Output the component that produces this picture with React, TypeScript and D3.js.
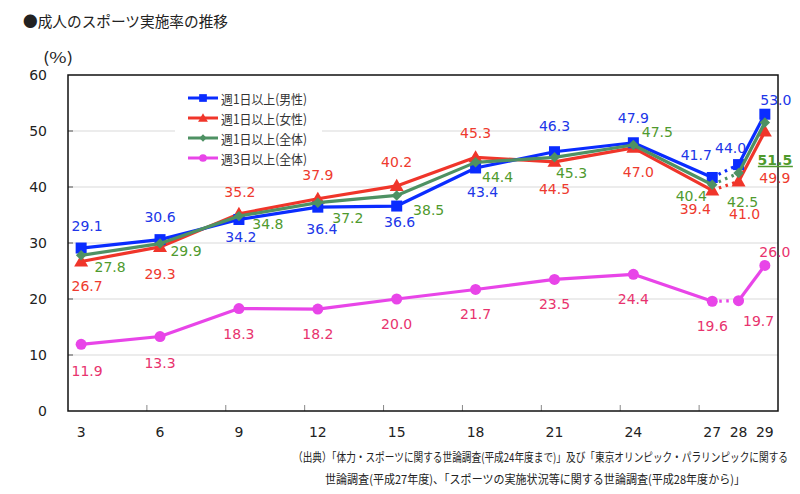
import React from "react";
import * as d3 from "d3";

const years = [3, 6, 9, 12, 15, 18, 21, 24, 27, 28, 29];
const xTickLabels = ["3", "6", "9", "12", "15", "18", "21", "24", "27", "28", "29"];
const yTicks = [0, 10, 20, 30, 40, 50, 60];
const male = [29.1, 30.6, 34.2, 36.4, 36.6, 43.4, 46.3, 47.9, 41.7, 44.0, 53.0];
const female = [26.7, 29.3, 35.2, 37.9, 40.2, 45.3, 44.5, 47.0, 39.4, 41.0, 49.9];
const total = [27.8, 29.9, 34.8, 37.2, 38.5, 44.4, 45.3, 47.5, 40.4, 42.5, 51.5];
const threeDays = [11.9, 13.3, 18.3, 18.2, 20.0, 21.7, 23.5, 24.4, 19.6, 19.7, 26.0];
const seriesNames = ["週1日以上(男性)", "週1日以上(女性)", "週1日以上(全体)", "週3日以上(全体)"];
const title = "●成人のスポーツ実施率の推移";
const sourceLines = [
  "（出典）「体力・スポーツに関する世論調査(平成24年度まで)」及び「東京オリンピック・パラリンピックに関する",
  "世論調査(平成27年度)、「スポーツの実施状況等に関する世論調査(平成28年度から)」",
];

// label placement offsets (dx, dy) relative to each point
const maleOff = [[6, -22], [0, -23], [2, 18], [4, 22], [3, 16], [7, 24], [0, -26], [0, -25], [-16, -22], [-8, -17], [11, -14]];
const femaleOff = [[6, 25], [0, 27], [1, -22], [0, -24], [0, -24], [0, -24], [0, 27], [5, 24], [-17, 19], [6, 33], [10, 46]];
const totalOff = [[29, 12], [26, 7], [29, 8], [30, 15], [32, 15], [22, 15], [17, 16], [24, -13], [-21, 11], [4, 29], [10, 37]];
const threeOff = [[6, 27], [0, 26], [0, 25], [0, 25], [0, 25], [0, 25], [0, 25], [0, 25], [0, 25], [20, 20], [10, -13]];

const W = 800;
const H = 494;
const L = 68, R = 778, T = 75, B = 411;

const x = d3.scaleLinear().domain([2.5, 29.5]).range([L, R]);
const y = d3.scaleLinear().domain([0, 60]).range([B, T]);

const NUM_FONT = "'DejaVu Sans', Verdana, sans-serif";
const JP_FONT = "'Noto Sans CJK JP', sans-serif";

type Series = {
  values: number[];
  off: number[][];
  line: string;
  text: string;
  marker: string;
};

const series: Series[] = [
  { values: threeDays, off: threeOff, line: "#e845e8", text: "#e8336e", marker: "circle" },
  { values: female, off: femaleOff, line: "#f0352a", text: "#ee3a2e", marker: "triangle" },
  { values: male, off: maleOff, line: "#0a2cff", text: "#2036e8", marker: "square" },
  { values: total, off: totalOff, line: "#4e9163", text: "#4f9a2e", marker: "diamond" },
];

function Marker({ kind, cx, cy, color, s = 1 }: { kind: string; cx: number; cy: number; color: string; s?: number }) {
  if (kind === "circle") return <circle cx={cx} cy={cy} r={5.5 * s} fill={color} />;
  if (kind === "square") {
    const h = 5.5 * s;
    return <rect x={cx - h} y={cy - h} width={2 * h} height={2 * h} fill={color} />;
  }
  if (kind === "triangle") {
    const p = d3.symbol().type(d3.symbolTriangle).size(85 * s * s)();
    return <path d={p || ""} transform={`translate(${cx},${cy + 1})`} fill={color} />;
  }
  const p = d3.symbol().type(d3.symbolSquare).size(55 * s * s)();
  return <path d={p || ""} transform={`translate(${cx},${cy}) rotate(45)`} fill={color} />;
}

export default function App() {
  const lineGen = d3
    .line<[number, number]>()
    .x((d) => x(d[0]))
    .y((d) => y(d[1]));

  const xTickPositions = years.slice(0, 8).map((yr) => yr + 2.5);

  return (
    <svg width={W} height={H} style={{ position: "absolute", left: 0, top: 0, background: "#fff" }}>
      <rect x={0} y={0} width={W} height={H} fill="#fff" />
      <text x={23} y={27} fontFamily={JP_FONT} fontSize={15} fill="#222" textLength={205} lengthAdjust="spacingAndGlyphs">
        {title}
      </text>
      <text x={43} y={63} fontFamily={JP_FONT} fontSize={15} fill="#222" textLength={30} lengthAdjust="spacingAndGlyphs">
        (%)
      </text>

      {/* gridlines */}
      {yTicks.filter((t) => t > 0 && t < 60).map((t) => (
        <line key={t} x1={L} x2={R} y1={y(t)} y2={y(t)} stroke="#d9d9d9" strokeWidth={1} />
      ))}
      {/* y labels */}
      {yTicks.map((t) => (
        <text key={t} x={47} y={y(t)} textAnchor="end" dominantBaseline="central" fontFamily={NUM_FONT} fontSize={14} fill="#222">
          {t}
        </text>
      ))}
      {yTicks.filter((t) => t > 0 && t < 60).map((t) => (
        <line key={"yt" + t} x1={L} x2={L + 5} y1={y(t)} y2={y(t)} stroke="#555" strokeWidth={1} />
      ))}
      {/* x ticks */}
      {xTickPositions.map((t) => (
        <line key={t} x1={x(t)} x2={x(t)} y1={B} y2={B - 6} stroke="#888" strokeWidth={1} />
      ))}
      {years.map((yr, i) => (
        <text key={yr} x={x(yr)} y={432} textAnchor="middle" dominantBaseline="central" fontFamily={NUM_FONT} fontSize={14} fill="#222">
          {xTickLabels[i]}
        </text>
      ))}

      {/* frame */}
      <rect x={L} y={T} width={R - L} height={B - T} fill="none" stroke="#111" strokeWidth={1.5} />

      {/* legend box */}
      <rect x={175} y={88} width={147} height={80} fill="#fff" />
      {[2, 1, 3, 0].map((si, row) => {
        const s = series[si];
        const ly = 98 + row * 20;
        return (
          <g key={si}>
            <line x1={188} x2={218} y1={ly} y2={ly} stroke={s.line} strokeWidth={3} />
            <Marker kind={s.marker} cx={203} cy={ly} color={s.line} s={0.7} />
            <text x={221} y={ly} dominantBaseline="central" fontFamily={JP_FONT} fontSize={13} fill="#333" textLength={86} lengthAdjust="spacingAndGlyphs">
              {seriesNames[row]}
            </text>
          </g>
        );
      })}

      {/* series */}
      {series.map((s, si) => {
        const pts: [number, number][] = years.map((yr, i) => [yr, s.values[i]]);
        return (
          <g key={si}>
            <path d={lineGen(pts.slice(0, 9)) || ""} fill="none" stroke={s.line} strokeWidth={3.2} strokeLinejoin="round" />
            <path d={lineGen(pts.slice(8, 10)) || ""} fill="none" stroke={s.line} strokeWidth={3.2} strokeDasharray="2.5 4.5" />
            <path d={lineGen(pts.slice(9, 11)) || ""} fill="none" stroke={s.line} strokeWidth={3.2} />
            {pts.map((p, i) => (
              <Marker key={i} kind={s.marker} cx={x(p[0])} cy={y(p[1])} color={s.line} />
            ))}
          </g>
        );
      })}

      {/* labels */}
      {series.map((s, si) =>
        s.values.map((v, i) => {
          const lx = x(years[i]) + s.off[i][0];
          const ly = y(v) + s.off[i][1];
          const special = s.marker === "diamond" && i === 10;
          return (
            <g key={si + "-" + i}>
              <text
                x={lx}
                y={ly}
                textAnchor="middle"
                dominantBaseline="central"
                fontFamily={NUM_FONT}
                fontSize={14}
                fontWeight={special ? "bold" : "normal"}
                fill={s.text}
              >
                {v.toFixed(1)}
              </text>
              {special && <line x1={lx - 17} x2={lx + 18} y1={ly + 7} y2={ly + 7} stroke={s.text} strokeWidth={1.5} />}
            </g>
          );
        })
      )}

      {/* source */}
      <text x={293} y={456} dominantBaseline="central" fontFamily={JP_FONT} fontSize={12} fill="#222" textLength={495} lengthAdjust="spacingAndGlyphs">
        {sourceLines[0]}
      </text>
      <text x={325} y={478} dominantBaseline="central" fontFamily={JP_FONT} fontSize={12} fill="#222" textLength={420} lengthAdjust="spacingAndGlyphs">
        {sourceLines[1]}
      </text>
    </svg>
  );
}
